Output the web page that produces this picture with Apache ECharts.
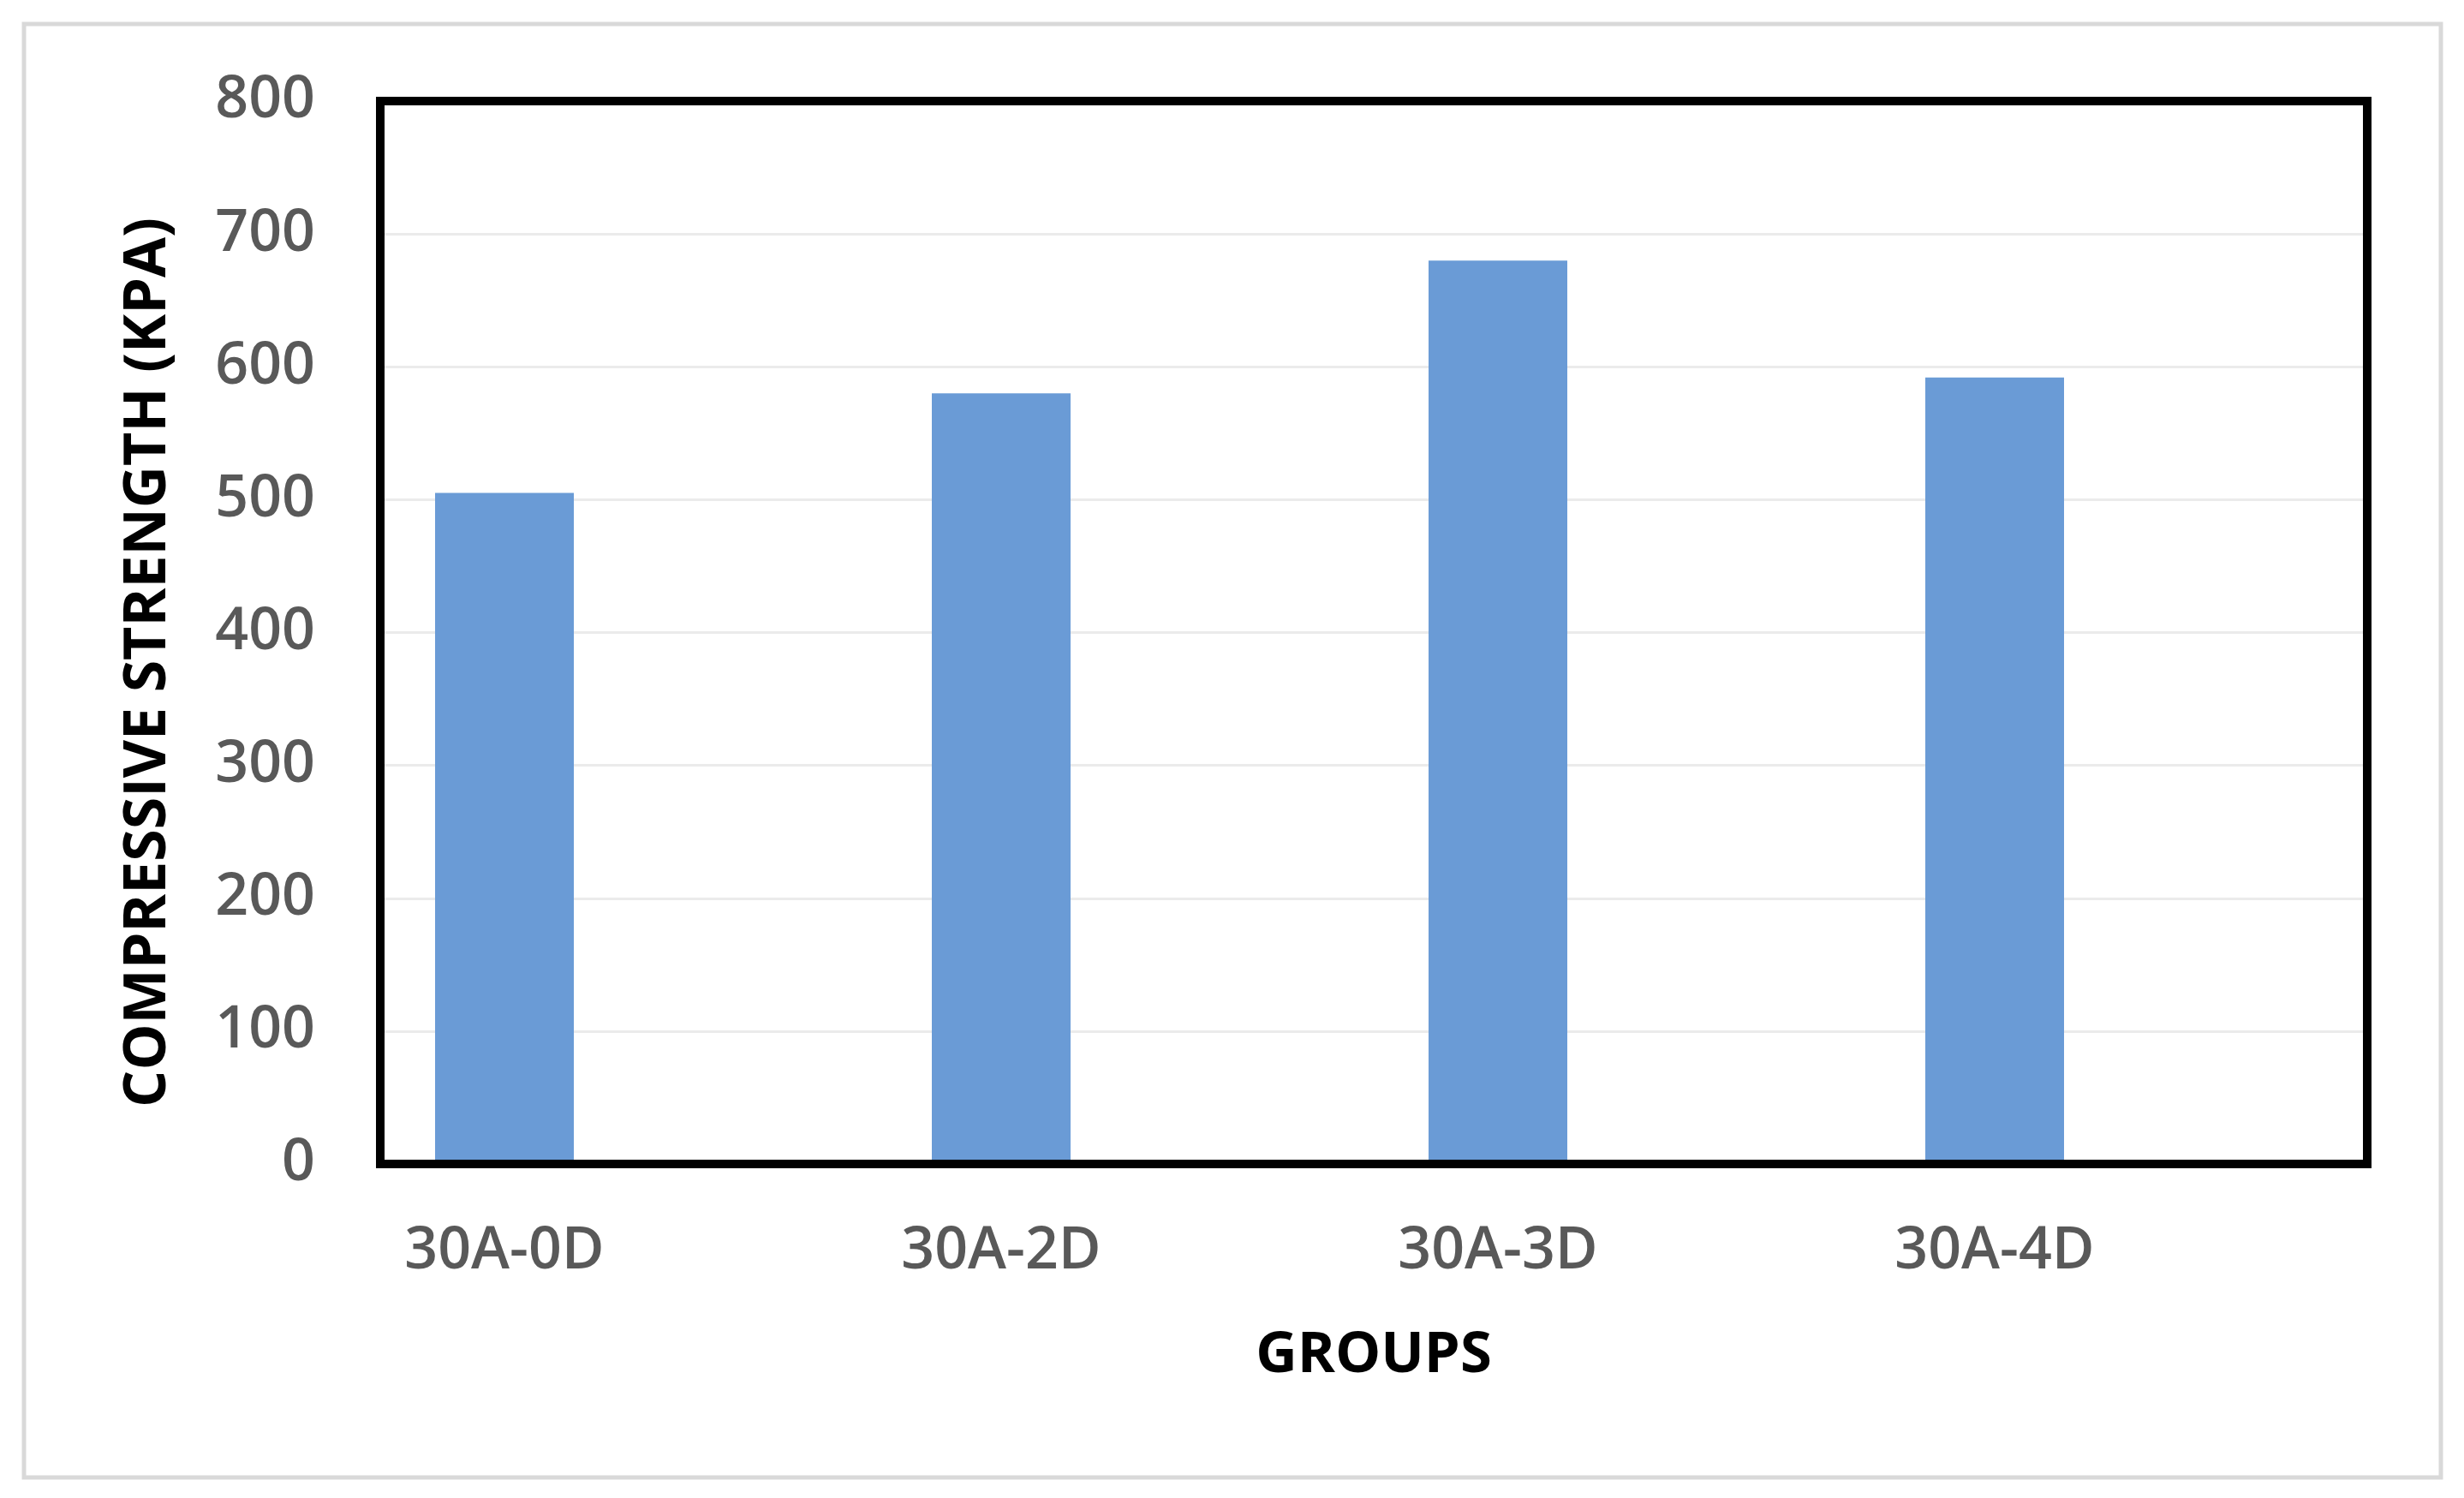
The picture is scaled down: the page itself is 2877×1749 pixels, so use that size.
<!DOCTYPE html>
<html>
<head>
<meta charset="utf-8">
<script src="https://cdn.jsdelivr.net/npm/echarts@6/dist/echarts.min.js"></script>
<style>
  html, body { margin: 0; padding: 0; background: #fff; }
  #chart { width: 2877px; height: 1749px; }
</style>
</head>
<body>
<div id="chart"></div>
<script>
const groups = ["30A-0D", "30A-2D", "30A-3D", "30A-4D"];
const groupPos = [1, 2, 3, 4];
const strength = [505, 580, 680, 592];

const labelFont = "'Open Sans', sans-serif";
const frameLine = { color: "#000", width: 10, cap: "square" };

const chart = echarts.init(document.getElementById("chart"));

chart.setOption({
    backgroundColor: "#fff",
    animation: false,

    // outer chart-area border
    graphic: [{
        type: "rect",
        shape: { x: 28, y: 28, width: 2822, height: 1697 },
        style: { fill: "none", stroke: "#d9d9d9", lineWidth: 5 },
        z: -1
    }],

    grid: { left: 444, right: 113, top: 118, bottom: 390 },

    xAxis: [
        {
            type: "value",
            min: 0.75,
            max: 4.75,
            z: 5, // bottom frame line sits over the bar feet
            axisLine: { show: true, onZero: false, lineStyle: frameLine },
            axisTick: { show: false },
            splitLine: { show: false },
            axisLabel: {
                customValues: groupPos,
                formatter: v => groups[Math.round(v) - 1] || "",
                color: "#595959",
                fontFamily: labelFont,
                fontWeight: 600,
                fontSize: 68,
                margin: 69
            },
            name: "GROUPS",
            nameLocation: "middle",
            nameGap: 190,
            nameTextStyle: { color: "#000", fontFamily: labelFont, fontWeight: "bold", fontSize: 67 }
        },
        {
            type: "value",
            position: "top",
            min: 0.75,
            max: 4.75,
            axisLine: { show: true, onZero: false, lineStyle: frameLine },
            axisTick: { show: false },
            axisLabel: { show: false },
            splitLine: { show: false }
        }
    ],

    yAxis: [
        {
            type: "value",
            min: 0,
            max: 800,
            interval: 100,
            axisLine: { show: true, onZero: false, lineStyle: frameLine },
            axisTick: { show: false },
            splitLine: { lineStyle: { color: "#ebebeb", width: 3 } },
            axisLabel: {
                color: "#595959",
                fontFamily: labelFont,
                fontWeight: 600,
                fontSize: 68,
                margin: 76
            },
            name: "COMPRESSIVE STRENGTH (KPA)",
            nameLocation: "middle",
            nameGap: 236,
            nameTextStyle: {
                color: "#000", fontFamily: labelFont, fontWeight: "bold", fontSize: 68,
                padding: [0, 70, 0, 0]
            }
        },
        {
            type: "value",
            position: "right",
            min: 0,
            max: 800,
            axisLine: { show: true, onZero: false, lineStyle: frameLine },
            axisTick: { show: false },
            axisLabel: { show: false },
            splitLine: { show: false }
        }
    ],

    series: [{
        type: "bar",
        xAxisIndex: 0,
        yAxisIndex: 0,
        barWidth: 162,
        data: groupPos.map((x, i) => [x, strength[i]]),
        itemStyle: { color: "#6a9bd6" }
    }]
});
</script>
</body>
</html>
